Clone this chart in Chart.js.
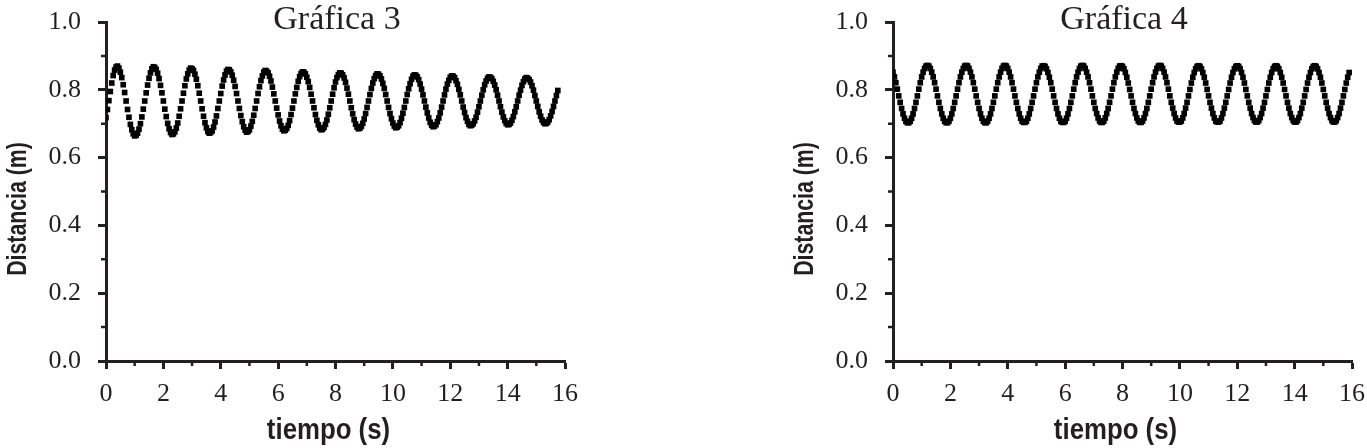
<!DOCTYPE html>
<html>
<head>
<meta charset="utf-8">
<script src="https://cdn.jsdelivr.net/npm/chart.js@4.4.0/dist/chart.umd.min.js"></script>
<style>
  body { margin: 0; background: #fff; }
  #wrap { position: relative; width: 1367px; height: 448px; }
  canvas { position: absolute; top: 0; }
</style>
</head>
<body>
<div id="wrap">
  <canvas id="g3" width="787" height="448" style="left:0"></canvas>
  <canvas id="g4" width="580" height="448" style="left:787px"></canvas>
</div>
<script>
// sample times (s), shared by both graphs
const tiempo = [
  0,0.05,0.1,0.15,0.2,0.25,0.3,0.35,0.4,0.45,0.5,0.55,0.6,0.65,0.7,0.75,0.8,0.85,0.9,0.95,
  1,1.05,1.1,1.15,1.2,1.25,1.3,1.35,1.4,1.45,1.5,1.55,1.6,1.65,1.7,1.75,1.8,1.85,1.9,1.95,
  2,2.05,2.1,2.15,2.2,2.25,2.3,2.35,2.4,2.45,2.5,2.55,2.6,2.65,2.7,2.75,2.8,2.85,2.9,2.95,
  3,3.05,3.1,3.15,3.2,3.25,3.3,3.35,3.4,3.45,3.5,3.55,3.6,3.65,3.7,3.75,3.8,3.85,3.9,3.95,
  4,4.05,4.1,4.15,4.2,4.25,4.3,4.35,4.4,4.45,4.5,4.55,4.6,4.65,4.7,4.75,4.8,4.85,4.9,4.95,
  5,5.05,5.1,5.15,5.2,5.25,5.3,5.35,5.4,5.45,5.5,5.55,5.6,5.65,5.7,5.75,5.8,5.85,5.9,5.95,
  6,6.05,6.1,6.15,6.2,6.25,6.3,6.35,6.4,6.45,6.5,6.55,6.6,6.65,6.7,6.75,6.8,6.85,6.9,6.95,
  7,7.05,7.1,7.15,7.2,7.25,7.3,7.35,7.4,7.45,7.5,7.55,7.6,7.65,7.7,7.75,7.8,7.85,7.9,7.95,
  8,8.05,8.1,8.15,8.2,8.25,8.3,8.35,8.4,8.45,8.5,8.55,8.6,8.65,8.7,8.75,8.8,8.85,8.9,8.95,
  9,9.05,9.1,9.15,9.2,9.25,9.3,9.35,9.4,9.45,9.5,9.55,9.6,9.65,9.7,9.75,9.8,9.85,9.9,9.95,
  10,10.05,10.1,10.15,10.2,10.25,10.3,10.35,10.4,10.45,10.5,10.55,10.6,10.65,10.7,10.75,10.8,10.85,10.9,10.95,
  11,11.05,11.1,11.15,11.2,11.25,11.3,11.35,11.4,11.45,11.5,11.55,11.6,11.65,11.7,11.75,11.8,11.85,11.9,11.95,
  12,12.05,12.1,12.15,12.2,12.25,12.3,12.35,12.4,12.45,12.5,12.55,12.6,12.65,12.7,12.75,12.8,12.85,12.9,12.95,
  13,13.05,13.1,13.15,13.2,13.25,13.3,13.35,13.4,13.45,13.5,13.55,13.6,13.65,13.7,13.75,13.8,13.85,13.9,13.95,
  14,14.05,14.1,14.15,14.2,14.25,14.3,14.35,14.4,14.45,14.5,14.55,14.6,14.65,14.7,14.75,14.8,14.85,14.9,14.95,
  15,15.05,15.1,15.15,15.2,15.25,15.3,15.35,15.4,15.45,15.5,15.55,15.6,15.65,15.7,15.75,15.8,15.85,15.9
];

// Gráfica 3: distance (m), slowly damped
const distancia3 = [
  0.718,0.742,0.768,0.795,0.820,0.842,0.858,0.867,
  0.870,0.864,0.852,0.836,0.815,0.792,0.767,0.742,0.719,0.698,0.682,0.670,0.664,
  0.666,0.672,0.684,0.700,0.720,0.743,0.767,0.791,0.814,0.834,0.850,0.862,0.868,
  0.866,0.860,0.849,0.833,0.813,0.791,0.767,0.743,0.721,0.701,0.685,0.674,0.668,
  0.670,0.676,0.687,0.702,0.722,0.744,0.767,0.790,0.812,0.832,0.847,0.858,0.864,
  0.862,0.857,0.846,0.831,0.812,0.790,0.767,0.744,0.722,0.703,0.688,0.677,0.672,
  0.674,0.679,0.690,0.705,0.723,0.745,0.767,0.789,0.811,0.829,0.844,0.855,0.860,
  0.859,0.853,0.843,0.828,0.810,0.789,0.767,0.745,0.724,0.706,0.691,0.681,0.675,
  0.677,0.682,0.693,0.707,0.725,0.745,0.767,0.789,0.809,0.827,0.841,0.852,0.857,
  0.855,0.850,0.840,0.826,0.808,0.788,0.767,0.746,0.726,0.708,0.694,0.684,0.679,
  0.681,0.686,0.695,0.709,0.727,0.746,0.767,0.788,0.807,0.825,0.839,0.848,0.853,
  0.852,0.847,0.837,0.824,0.807,0.787,0.767,0.747,0.727,0.710,0.697,0.687,0.682,
  0.684,0.689,0.698,0.711,0.728,0.747,0.767,0.787,0.806,0.823,0.836,0.845,0.850,
  0.849,0.844,0.835,0.822,0.805,0.787,0.767,0.747,0.729,0.712,0.699,0.690,0.685,
  0.687,0.692,0.701,0.714,0.730,0.748,0.767,0.786,0.804,0.820,0.833,0.842,0.847,
  0.846,0.841,0.832,0.819,0.804,0.786,0.767,0.748,0.730,0.715,0.702,0.693,0.688,
  0.690,0.694,0.703,0.716,0.731,0.748,0.767,0.786,0.803,0.818,0.831,0.840,0.844,
  0.843,0.838,0.830,0.817,0.802,0.785,0.767,0.749,0.732,0.717,0.704,0.696,0.691,
  0.693,0.697,0.706,0.717,0.732,0.749,0.767,0.785,0.802,0.817,0.828,0.837,0.841,
  0.840,0.836,0.827,0.816,0.801,0.785,0.767,0.749,0.733,0.718,0.707,0.698,0.694,
  0.696,0.700,0.708,0.719,0.734,0.750,0.767,0.784,0.800,0.815,0.826,0.834,0.838,
  0.837,0.833,0.825,0.814,0.800,0.784,0.767,0.750,0.734,0.720,0.709,0.701,0.697,
  0.698,0.702,0.710,0.721,0.735,0.750,0.767,0.784,0.799,0.813,0.824,0.832,0.836,
  0.834,0.830,0.823,0.812,0.799,0.783,0.767,0.751,0.735,0.722,0.711,0.704,0.700,
  0.701,0.705,0.712,0.723,0.736,0.751,0.767,0.783,0.798
];

// Gráfica 4: distance (m), steady amplitude
const distancia4 = [
  0.852,0.838,0.821,0.802,0.782,0.763,0.745,0.729,0.716,0.707,0.703,0.703,0.707,0.716,0.729,0.745,0.763,0.782,0.802,0.821,0.838,0.852,0.863,0.870,
  0.872,0.870,0.863,0.852,0.838,0.821,0.802,0.782,0.763,0.745,0.729,0.716,0.707,0.703,0.703,0.707,0.716,0.729,0.745,0.763,0.782,0.802,0.821,0.838,0.852,0.863,0.870,
  0.872,0.870,0.863,0.852,0.838,0.821,0.802,0.782,0.763,0.745,0.729,0.716,0.707,0.703,0.703,0.707,0.716,0.729,0.745,0.763,0.782,0.802,0.821,0.838,0.852,0.863,0.870,
  0.872,0.870,0.863,0.852,0.838,0.821,0.802,0.782,0.763,0.745,0.729,0.716,0.707,0.704,0.704,0.707,0.716,0.729,0.745,0.763,0.782,0.802,0.821,0.838,0.852,0.863,0.870,
  0.871,0.869,0.862,0.851,0.837,0.821,0.802,0.782,0.763,0.745,0.729,0.716,0.707,0.704,0.704,0.707,0.716,0.729,0.745,0.763,0.782,0.802,0.821,0.838,0.852,0.863,0.870,
  0.872,0.870,0.863,0.852,0.838,0.821,0.802,0.782,0.763,0.745,0.730,0.717,0.708,0.704,0.704,0.708,0.717,0.730,0.745,0.763,0.782,0.802,0.821,0.838,0.852,0.863,0.870,
  0.871,0.869,0.862,0.851,0.837,0.820,0.801,0.782,0.763,0.745,0.730,0.717,0.708,0.704,0.704,0.708,0.717,0.730,0.745,0.763,0.782,0.802,0.821,0.838,0.852,0.863,0.870,
  0.872,0.870,0.863,0.852,0.838,0.821,0.802,0.782,0.763,0.746,0.730,0.717,0.708,0.705,0.705,0.708,0.717,0.730,0.746,0.763,0.782,0.801,0.820,0.837,0.851,0.862,0.869,
  0.871,0.869,0.862,0.851,0.837,0.820,0.801,0.782,0.763,0.746,0.730,0.717,0.708,0.705,0.705,0.708,0.717,0.730,0.746,0.763,0.782,0.801,0.820,0.837,0.851,0.862,0.869,
  0.871,0.869,0.862,0.851,0.837,0.820,0.801,0.782,0.763,0.746,0.730,0.718,0.709,0.705,0.705,0.709,0.718,0.730,0.746,0.763,0.782,0.801,0.820,0.837,0.851,0.862,0.869,
  0.871,0.869,0.862,0.851,0.837,0.820,0.801,0.782,0.763,0.746,0.730,0.718,0.709,0.705,0.705,0.709,0.718,0.730,0.746,0.763,0.782,0.801,0.820,0.837,0.851,0.862,0.869,
  0.871,0.869,0.862,0.851,0.837,0.820,0.801,0.782,0.763,0.746,0.730,0.718,0.709,0.705,0.705,0.709,0.718,0.730,0.746,0.763,0.782,0.801,0.820,0.837,0.851
];

const minorX = [1, 3, 5, 7, 9, 11, 13, 15];
const minorY = [0.1, 0.3, 0.5, 0.7, 0.9];

const ink = "#231f20";
const serif = "'Liberation Serif', 'Times New Roman', serif";
const sans = "'Liberation Sans', Arial, sans-serif";

// graph title, condensed bold axis titles and the short minor ticks
const extras = {
  id: "extras",
  afterDraw(chart) {
    const c = chart.ctx, a = chart.chartArea;
    const xs = chart.scales.x, ys = chart.scales.y;
    c.save();
    c.strokeStyle = ink;
    c.lineWidth = 2.5;
    c.beginPath();
    minorX.forEach(v => {
      const px = xs.getPixelForValue(v);
      c.moveTo(px, a.bottom);
      c.lineTo(px, a.bottom + 5);
    });
    minorY.forEach(v => {
      const py = ys.getPixelForValue(v);
      c.moveTo(a.left - 5, py);
      c.lineTo(a.left, py);
    });
    c.stroke();

    c.fillStyle = ink;
    c.textAlign = "center";
    c.textBaseline = "alphabetic";
    c.font = "34px " + serif;
    c.fillText(chart.options.plugins.titulo, (a.left + a.right) / 2 + 1.5, a.top + 6.5);

    c.font = "bold 30px " + sans;
    c.save();
    c.translate((a.left + a.right) / 2 - 7, 439);
    c.scale(0.86, 1);
    c.fillText("tiempo (s)", 0, 0);
    c.restore();

    c.font = "bold 28px " + sans;
    c.save();
    c.translate(26, 209);
    c.rotate(-Math.PI / 2);
    c.scale(0.76, 1);
    c.fillText("Distancia (m)", 0, 0);
    c.restore();
    c.restore();
  }
};

function makeChart(id, titulo, distancia, padRight) {
  const pts = distancia.map((d, i) => ({ x: tiempo[i], y: d }));
  return new Chart(document.getElementById(id), {
    type: "scatter",
    data: {
      datasets: [{
        data: pts,
        pointStyle: "rect",
        pointRadius: 4,
        pointBorderWidth: 0,
        backgroundColor: "#000",
        borderColor: "#000",
        showLine: false
      }]
    },
    options: {
      responsive: false,
      animation: false,
      devicePixelRatio: 1,
      layout: { padding: { top: 22, right: padRight, bottom: 0, left: 0 } },
      plugins: { legend: { display: false }, tooltip: { enabled: false }, titulo: titulo },
      scales: {
        x: {
          type: "linear", min: 0, max: 16,
          ticks: { stepSize: 2, color: ink, font: { family: serif, size: 26 }, padding: 10, maxRotation: 0 },
          grid: { drawOnChartArea: false, drawTicks: true, tickLength: 8, tickWidth: 3, tickColor: ink },
          border: { color: ink, width: 3 },
          afterFit: s => { s.height = 87; s.paddingLeft = 0; s.paddingRight = 0; }
        },
        y: {
          min: 0, max: 1,
          ticks: { stepSize: 0.2, color: ink, font: { family: serif, size: 26 }, padding: 17,
                   callback: v => v.toFixed(1) },
          grid: { drawOnChartArea: false, drawTicks: true, tickLength: 8, tickWidth: 3, tickColor: ink },
          border: { color: ink, width: 3 },
          afterFit: s => { s.width = 106; s.paddingTop = 0; s.paddingBottom = 0; }
        }
      }
    },
    plugins: [extras]
  });
}

makeChart("g3", "Gráfica 3", distancia3, 787 - 565);
makeChart("g4", "Gráfica 4", distancia4, 580 - 565);
</script>
</body>
</html>
